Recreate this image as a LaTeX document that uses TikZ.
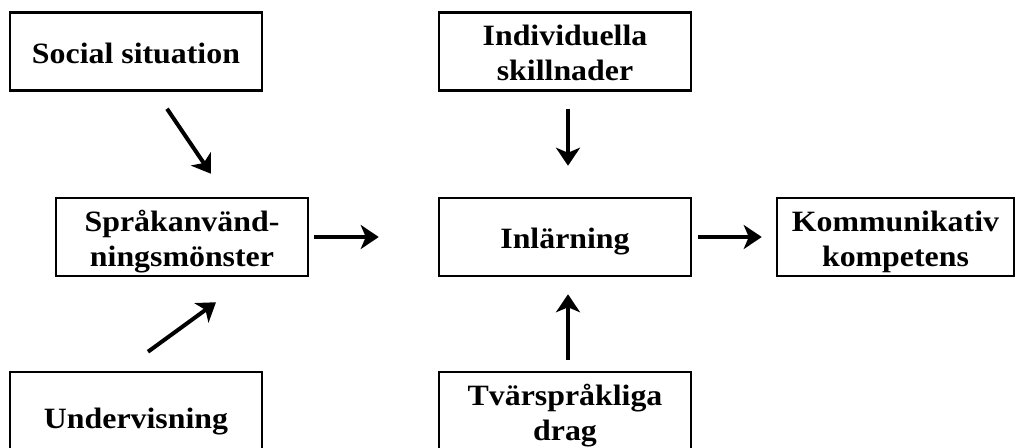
\documentclass[tikz,border=0pt]{standalone}
\usepackage{fontspec}
\setmainfont{Liberation Serif}[FakeStretch=1.08]
\usetikzlibrary{arrows.meta}
\tikzset{
  box/.style={draw, line width=2.5pt, minimum width=252pt, minimum height=78pt,
    inner sep=0pt, align=center, font=\bfseries\fontsize{29.5}{35}\selectfont},
  oneline/.style={text height=23.6pt, text depth=0pt},
  twoline/.style={text height=58pt, text depth=0pt},
  arr/.style={line width=4pt, -{Stealth[length=18pt,width=24pt,inset=5pt]}},
}
\begin{document}
\begin{tikzpicture}[x=1pt,y=-1pt]
\clip (0,0) rectangle (1017,447);
\fill[white] (0,0) rectangle (1017,447);
\node[box,oneline] (soc) at (136,51.5) {Social situation};
\node[box,twoline] (spr) at (182,237) {Språkanvänd-\\ningsmönster};
\node[box,oneline,minimum height=90pt] (und) at (136,417) {Undervisning};
\node[box,twoline] (ind) at (565,51.5) {Individuella\\skillnader};
\node[box,oneline] (inl) at (565,237) {Inlärning};
\node[box,twoline] (tva) at (565,411) {Tvärspråkliga\\drag};
\node[box,twoline,minimum width=237pt] (kom) at (895.5,237) {Kommunikativ\\kompetens};
\draw[arr] ([shift={(31,17)}]soc.south) -- ([shift={(29,-23)}]spr.north);
\draw[arr] ([shift={(12,-19)}]und.north) -- ([shift={(34,25)}]spr.south);
\draw[arr] ([shift={(5,0)}]spr.east) -- ([shift={(-59,0)}]inl.west);
\draw[arr] ([shift={(3,17)}]ind.south) -- ([shift={(3,-31)}]inl.north);
\draw[arr] ([shift={(3,-11)}]tva.north) -- ([shift={(3,17)}]inl.south);
\draw[arr] ([shift={(6,0)}]inl.east) -- ([shift={(-14,0)}]kom.west);
\end{tikzpicture}
\end{document}
